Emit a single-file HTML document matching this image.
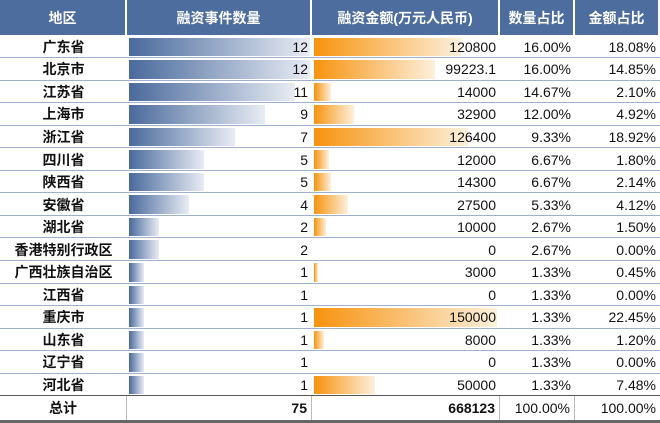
<!DOCTYPE html>
<html><head><meta charset="utf-8"><style>
body{margin:0;width:660px;height:423px;overflow:hidden;background:#fff;font-family:"Liberation Sans","Noto Sans CJK SC",sans-serif;}
#t{position:relative;width:660px;height:423px;}
.c{position:absolute;box-sizing:border-box;font-size:14px;display:flex;align-items:center;color:#111;}
.h{background:#4d6d9e;color:#fff;font-weight:bold;justify-content:center;border-right:2px solid #fff;}
.bar{position:absolute;}
.line{position:absolute;left:0;width:660px;height:1px;background:#9fb0cc;}
</style></head><body>
<div id="t"></div>
<script>
const regions=["广东省","北京市","江苏省","上海市","浙江省","四川省","陕西省","安徽省","湖北省","香港特别行政区","广西壮族自治区","江西省","重庆市","山东省","辽宁省","河北省"];
const counts=[12,12,11,9,7,5,5,4,2,2,1,1,1,1,1,1];
const amounts=["120800","99223.1","14000","32900","126400","12000","14300","27500","10000","0","3000","0","150000","8000","0","50000"];
const countPct=["16.00%","16.00%","14.67%","12.00%","9.33%","6.67%","6.67%","5.33%","2.67%","2.67%","1.33%","1.33%","1.33%","1.33%","1.33%","1.33%"];
const amountPct=["18.08%","14.85%","2.10%","4.92%","18.92%","1.80%","2.14%","4.12%","1.50%","0.00%","0.45%","0.00%","22.45%","1.20%","0.00%","7.48%"];
const headers=["地区","融资事件数量","融资金额(万元人民币)","数量占比","金额占比"];
const totals=["总计","75","668123","100.00%","100.00%"];
const cols=[0,127,312,500,575,660];
const T=document.getElementById('t');
function cell(x,y,w,h,txt,cls,align,bold){const d=document.createElement('div');d.className='c '+(cls||'');
d.style.left=x+'px';d.style.top=y+'px';d.style.width=w+'px';d.style.height=h+'px';
d.style.justifyContent=align||'center';d.style.paddingRight=align==='flex-end'?'4px':'0';
if(bold)d.style.fontWeight='bold';d.textContent=txt;T.appendChild(d);return d;}
headers.forEach((h,i)=>{const d=cell(cols[i],0,cols[i+1]-cols[i],35,h,'h');

});
const top0=35.5,rh=22.55;
const maxC=Math.max(...counts),maxA=Math.max(...amounts.map(Number));
regions.forEach((r,i)=>{const y=top0+i*rh;
const bc=document.createElement('div');bc.className='bar';


bc.style.left=(cols[1]+2)+'px';bc.style.top=(y+2)+'px';bc.style.height=(rh-4)+'px';
bc.style.width=(counts[i]/maxC*181)+'px';bc.style.background='linear-gradient(to right,#4a6a9c,#e8ecf4)';T.appendChild(bc);
const a=Number(amounts[i]);
if(a>0){const ba=document.createElement('div');ba.className='bar';


ba.style.left=(cols[2]+2)+'px';ba.style.top=(y+2)+'px';ba.style.height=(rh-4)+'px';
ba.style.width=(a/maxA*183)+'px';ba.style.background='linear-gradient(to right,#f7930e,#fdf0dc)';T.appendChild(ba);}
const vals=[r,String(counts[i]),amounts[i],countPct[i],amountPct[i]];
vals.forEach((v,j)=>{const d=cell(cols[j],y,cols[j+1]-cols[j],rh,v,'',j===0?'center':'flex-end',j===0);

});
const l=document.createElement('div');l.className='line';l.style.top=(y+rh-1)+'px';


T.appendChild(l);});
const ty=top0+16*rh;
totals.forEach((v,j)=>{const d=cell(cols[j],ty,cols[j+1]-cols[j],423-ty-3,v,'',j===0?'center':'flex-end',j<3);
d.style.borderRight=j<4?'1px solid #bbb':'none';

});
const tl=document.createElement('div');tl.className='line';tl.style.top=(ty-1)+'px';tl.style.background='#555';


T.appendChild(tl);
const bl=document.createElement('div');bl.className='line';bl.style.top='420px';bl.style.height='3px';bl.style.background='#666';


T.appendChild(bl);
</script></body></html>
